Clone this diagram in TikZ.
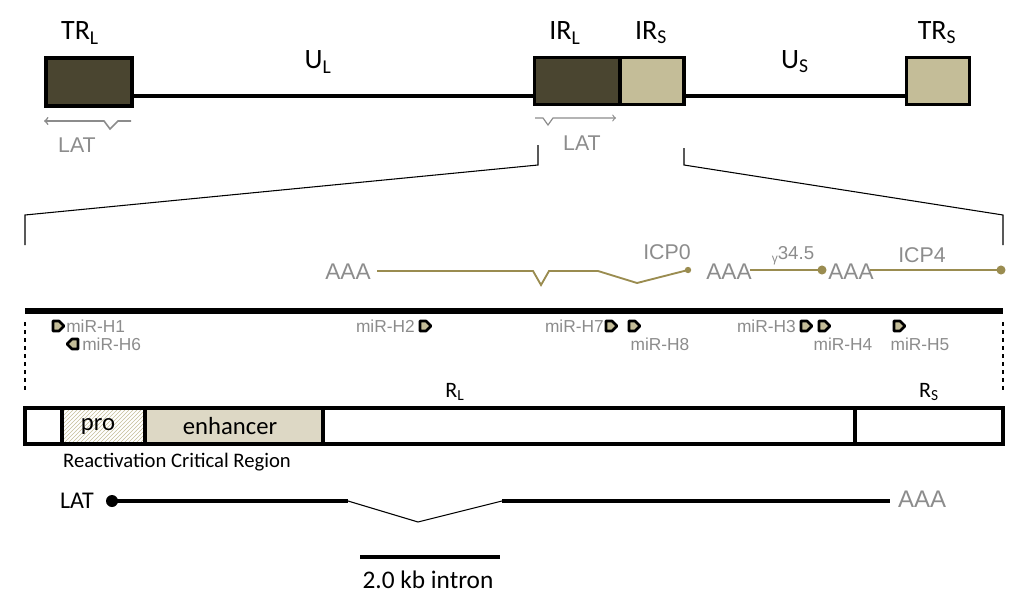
\documentclass[tikz,border=0pt]{standalone}
\usepackage{fontspec}
\setmainfont{Carlito}
\newfontfamily\arialf{Liberation Sans}
\usetikzlibrary{patterns}
\definecolor{darkb}{HTML}{4A4530}
\definecolor{lightb}{HTML}{C4BD98}
\definecolor{enh}{HTML}{DDD8C5}
\definecolor{olive}{HTML}{9A8C50}
\definecolor{gtxt}{HTML}{8C8C8C}
\begin{document}
\begin{tikzpicture}[x=0.75pt,y=-0.75pt,
  lab/.style={font=\fontsize{21}{21}\selectfont},
  glab/.style={font=\arialf\fontsize{16}{16}\selectfont,text=gtxt,inner sep=0pt},
  mlab/.style={font=\arialf\fontsize{13}{13}\selectfont,text=gtxt,inner sep=0pt},
  box/.style={draw=black,line width=2.4pt},
  tr/.style={olive,line width=1.4pt},
  mir/.style={draw=black,fill=lightb,line width=2pt,line join=round}]
\useasboundingbox (0,0) rectangle (1024,603);
% top genome
\draw[line width=2.8pt] (132,96) -- (535,96) (684,96) -- (907,96);
\node[box,fill=darkb,minimum width=64.5pt,minimum height=36pt,inner sep=0] (trl) at (89,82) {};
\node[box,fill=darkb,minimum width=64pt,minimum height=35pt,inner sep=0] (irl) at (577,81) {};
\node[box,fill=lightb,minimum width=48pt,minimum height=35pt,inner sep=0] (irs) at (652,81) {};
\node[box,fill=lightb,minimum width=47pt,minimum height=35pt,inner sep=0] (trs) at (938,81) {};
\node[lab] (ltrl) at (80,33) {TR\textsubscript{L}};
\node[lab] (lul) at (318,62) {U\textsubscript{L}};
\node[lab] (lirl) at (565,33) {IR\textsubscript{L}};
\node[lab] (lirs) at (651,33) {IR\textsubscript{S}};
\node[lab] (lus) at (795,62) {U\textsubscript{S}};
\node[lab] (ltrs) at (937,33) {TR\textsubscript{S}};
% LAT arrows
\draw[gtxt,line width=1.2pt,->] (131,121) -- (118,121) -- (110,129) -- (104,121) -- (44,121);
\node[glab] (lat1) at (77,145) {LAT};
\draw[gtxt,line width=0.9pt,->] (535,118) -- (543,118) -- (548,125) -- (553,118) -- (616,118);
\node[glab] (lat2) at (582,143) {LAT};
% zoom lines
\draw[line width=0.8pt] (538,145) -- (538,165) -- (25,215) -- (25,245);
\draw[line width=0.8pt] (684,148) -- (684,165) -- (1003,215) -- (1003,245);
% transcripts
\node[glab,font=\arialf\fontsize{17}{17}\selectfont] (aaa1) at (348,272) {AAA};
\draw[tr] (377,271) -- (533,271) -- (541,285) -- (549,271) -- (598,271) -- (637,283) -- (688,270);
\fill[olive] (688,270) circle (2.4pt);
\node[glab] (icp0) at (667,252) {ICP0};
\node[glab,font=\arialf\fontsize{17}{17}\selectfont] (aaa2) at (729,272) {AAA};
\draw[tr] (750,270) -- (822,270);
\fill[olive] (822,270) circle (3.4pt);
\node[glab,font=\arialf\fontsize{14}{14}\selectfont] (g345) at (793,256) {\raisebox{-2pt}{\fontsize{9}{9}\selectfont γ}34.5};
\node[glab,font=\arialf\fontsize{17}{17}\selectfont] (aaa3) at (851,272) {AAA};
\draw[tr] (870,270) -- (1001,270);
\fill[olive] (1001,270) circle (3.4pt);
\node[glab] (icp4) at (922,255) {ICP4};
% main line
\draw[line width=4pt] (25,311) -- (1003,311);
\draw[dashed,line width=0.8pt] (25,322) -- (25,392) (1003,322) -- (1003,392);
% miR markers
\newcommand{\mirR}[2]{\draw[mir] (#1-5,#2-5) -- (#1+1,#2-5) -- (#1+6,#2) -- (#1+1,#2+5) -- (#1-5,#2+5) -- cycle;}
\newcommand{\mirL}[2]{\draw[mir] (#1+5,#2-5) -- (#1-1,#2-5) -- (#1-6,#2) -- (#1-1,#2+5) -- (#1+5,#2+5) -- cycle;}
\mirR{58}{326}\node[mlab,anchor=west] (h1) at (66,326) {miR-H1};
\mirL{73}{344}\node[mlab,anchor=west] (h6) at (82,344) {miR-H6};
\mirR{425}{326}\node[mlab,anchor=east] (h2) at (415,326) {miR-H2};
\mirR{611}{326}\node[mlab,anchor=east] (h7) at (604,326) {miR-H7};
\mirR{634}{326}\node[mlab] (h8) at (660,344) {miR-H8};
\mirR{806}{326}\node[mlab,anchor=east] (h3) at (796,326) {miR-H3};
\mirR{824}{326}\node[mlab] (h4) at (843,344) {miR-H4};
\mirR{899}{326}\node[mlab] (h5) at (920,344) {miR-H5};
% lower box
\fill[pattern=north east lines,pattern color=lightb] (62,408) rectangle (145,444);
\fill[enh] (145,408) rectangle (323,444);
\draw[box] (25,408) rectangle (1003,444);
\draw[box] (62,408) -- (62,444) (145,408) -- (145,444) (323,408) -- (323,444) (855,408) -- (855,444);
\node[font=\fontsize{18.5}{18.5}\selectfont] (pro) at (98,426) {pro};
\node[font=\fontsize{18.5}{18.5}\selectfont] (enhn) at (230,426) {enhancer};
\node[font=\fontsize{16.5}{16.5}\selectfont] (rl) at (455,392) {R\textsubscript{L}};
\node[font=\fontsize{16.5}{16.5}\selectfont] (rs) at (929,392) {R\textsubscript{S}};
\node[font=\fontsize{15.5}{15.5}\selectfont] (rcr) at (177,462) {Reactivation Critical Region};
% LAT transcript
\node[font=\fontsize{18}{18}\selectfont] (latb) at (77,501) {LAT};
\draw[line width=2.4pt] (112,501) -- (348,501);
\draw[line width=0.8pt] (348,501) -- (418,522) -- (502,501);
\draw[line width=2.4pt] (502,501) -- (890,501);
\fill (112,501) circle (4.5pt);
\node[glab,font=\arialf\fontsize{18}{18}\selectfont] (aaab) at (922,499) {AAA};
% scale bar
\draw[line width=2.8pt] (360,557) -- (500,557);
\node[font=\fontsize{19}{19}\selectfont] (sc) at (428,580) {2.0 kb intron};
\end{tikzpicture}
\end{document}
